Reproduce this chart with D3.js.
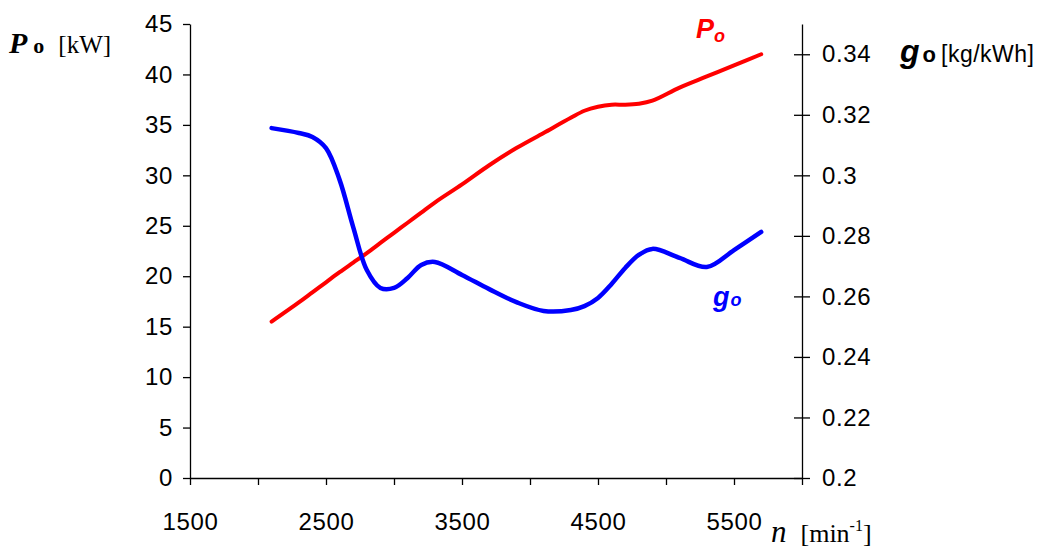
<!DOCTYPE html>
<html>
<head>
<meta charset="utf-8">
<script src="https://cdn.jsdelivr.net/npm/d3@7"></script>
<style>
  body { margin: 0; background: #fff; }
  svg { display: block; }
  .tick text { font-family: "Liberation Sans", Arial, sans-serif; font-size: 24px; letter-spacing: 0.6px; fill: #000; }
</style>
</head>
<body>
<script>
var width = 1047,
  height = 549;

// engine speed n [min-1]
var speed = [2100, 2300, 2400, 2500, 2600, 2700, 2800, 2900, 3000, 3100, 3200, 3300, 3500, 3700, 3900, 4100, 4300, 4400, 4500, 4600, 4700, 4800, 4900, 5100, 5300, 5500, 5700];
// power Po [kW]
var power = [15.5, 17.4, 18.4, 19.4, 20.4, 21.35, 22.3, 23.3, 24.3, 25.3, 26.3, 27.3, 29.1, 31.0, 32.7, 34.2, 35.7, 36.4, 36.8, 37.0, 37.0, 37.1, 37.4, 38.7, 39.8, 40.9, 42.0];
// specific consumption go [kg/kWh]
var consumption = [0.3156, 0.3140, 0.3127, 0.3090, 0.2985, 0.2829, 0.2687, 0.2628, 0.2628, 0.2661, 0.2704, 0.2714, 0.2671, 0.2624, 0.2581, 0.2552, 0.2555, 0.2568, 0.2595, 0.2641, 0.2694, 0.2737, 0.2757, 0.2727, 0.2697, 0.2753, 0.2813];

var xTicks = [1500, 2000, 2500, 3000, 3500, 4000, 4500, 5000, 5500, 6000];
var xLabels = [1500, 2500, 3500, 4500, 5500];
var leftTicks = [0, 5, 10, 15, 20, 25, 30, 35, 40, 45];
var rightTicks = [0.2, 0.22, 0.24, 0.26, 0.28, 0.3, 0.32, 0.34];

var svg = d3.select("body").append("svg")
  .attr("width", width)
  .attr("height", height);

var x = d3.scaleLinear().domain([1500, 6000]).range([190, 802]);
var yP = d3.scaleLinear().domain([0, 45]).range([478, 24]);
var yG = d3.scaleLinear().domain([0.2, 0.35]).range([478, 24]);

// x axis
var xAxis = svg.append("g")
  .attr("transform", "translate(0,478)")
  .call(d3.axisBottom(x).tickValues(xTicks).tickSize(7).tickSizeOuter(0)
    .tickFormat(function (d) { return xLabels.indexOf(d) >= 0 ? d : ""; }));
xAxis.selectAll("text").attr("y", 35);

// left axis
var leftAxis = svg.append("g")
  .attr("transform", "translate(190,0)")
  .call(d3.axisLeft(yP).tickValues(leftTicks).tickSize(7).tickSizeOuter(0));
leftAxis.selectAll("text").attr("x", -17);

// right axis, ticks cross the line
var rightAxis = svg.append("g")
  .attr("transform", "translate(802,0)")
  .call(d3.axisRight(yG).tickValues(rightTicks).tickSize(8).tickSizeOuter(0)
    .tickFormat(function (d) { return +d.toFixed(2); }));
rightAxis.selectAll(".tick line").attr("x1", -8);
rightAxis.selectAll("text").attr("x", 20);

svg.selectAll(".domain").attr("stroke", "#000").attr("stroke-width", 1.3);
svg.selectAll(".tick line").attr("stroke", "#000").attr("stroke-width", 1.3);

// curves
var pts = speed.map(function (n, i) { return { n: n, p: power[i], g: consumption[i] }; });

svg.append("path")
  .datum(pts)
  .attr("fill", "none")
  .attr("stroke", "#ff0000")
  .attr("stroke-width", 4)
  .attr("stroke-linecap", "round")
  .attr("d", d3.line().curve(d3.curveCatmullRom)
    .x(function (d) { return x(d.n); })
    .y(function (d) { return yP(d.p); }));

svg.append("path")
  .datum(pts)
  .attr("fill", "none")
  .attr("stroke", "#0000ff")
  .attr("stroke-width", 4.5)
  .attr("stroke-linecap", "round")
  .attr("d", d3.line().curve(d3.curveCatmullRom)
    .x(function (d) { return x(d.n); })
    .y(function (d) { return yG(d.g); }));

// axis titles
var serif = "'Liberation Serif', 'Times New Roman', serif";
var sans = "'Liberation Sans', Arial, sans-serif";

var t1 = svg.append("text").attr("x", 9).attr("y", 53).attr("font-family", serif);
t1.append("tspan").attr("font-size", 30).attr("font-weight", "bold").attr("font-style", "italic").text("P");
t1.append("tspan").attr("dx", 6).attr("font-size", 22).attr("font-weight", "bold").text("o");
t1.append("tspan").attr("dx", 14).attr("font-size", 25).text("[kW]");

var t2 = svg.append("text").attr("x", 900).attr("y", 62).attr("font-family", sans);
t2.append("tspan").attr("font-size", 32).attr("font-weight", "bold").attr("font-style", "italic").text("g");
t2.append("tspan").attr("dx", 3).attr("font-size", 22).attr("font-weight", "bold").text("o");
t2.append("tspan").attr("dx", 5).attr("font-size", 23).attr("letter-spacing", 0.5).text("[kg/kWh]");

var t3 = svg.append("text").attr("x", 771).attr("y", 542).attr("font-family", serif);
t3.append("tspan").attr("font-size", 31).attr("font-style", "italic").text("n");
t3.append("tspan").attr("dx", 14).attr("font-size", 26).text("[min");
t3.append("tspan").attr("dy", -11).attr("font-size", 16).text("-1");
t3.append("tspan").attr("dy", 11).attr("font-size", 26).text("]");

// series labels
var l1 = svg.append("text").attr("x", 696).attr("y", 38).attr("font-family", sans)
  .attr("fill", "#ff0000").attr("font-weight", "bold").attr("font-style", "italic");
l1.append("tspan").attr("font-size", 27).text("P");
l1.append("tspan").attr("dy", 4).attr("font-size", 18).text("o");

var l2 = svg.append("text").attr("x", 713).attr("y", 306).attr("font-family", sans)
  .attr("fill", "#0000ff").attr("font-weight", "bold").attr("font-style", "italic");
l2.append("tspan").attr("font-size", 27).text("g");
l2.append("tspan").attr("dx", 1).attr("font-size", 18).text("o");
</script>
</body>
</html>
